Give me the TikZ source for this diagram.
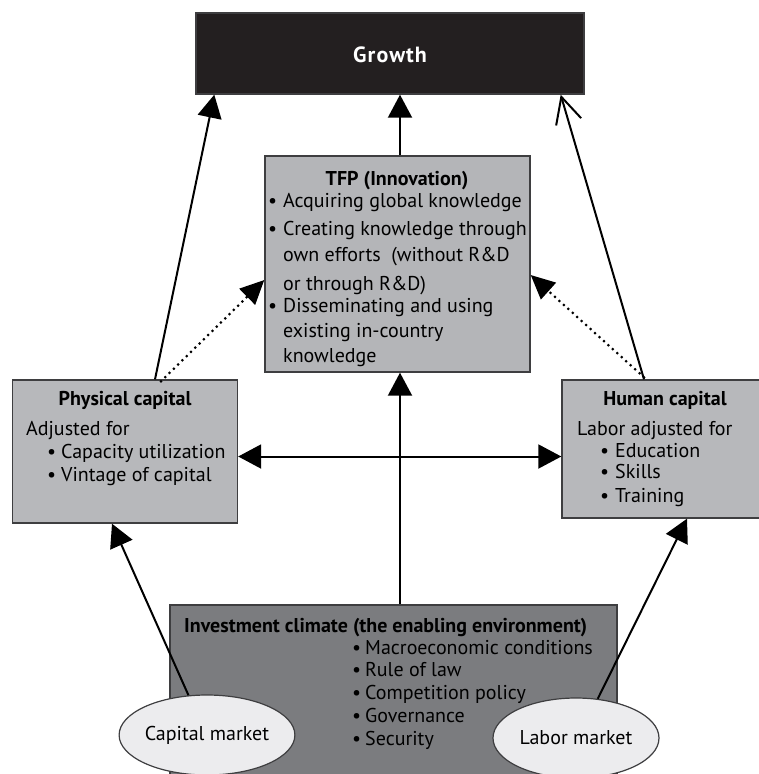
\documentclass[tikz,border=0pt]{standalone}
\usepackage{fontspec}
\setmainfont{PT Sans}
\usetikzlibrary{arrows.meta,shapes.geometric}

\definecolor{growthblack}{RGB}{35,31,32}
\definecolor{tfpgray}{RGB}{180,181,184}
\definecolor{capgray}{RGB}{183,184,187}
\definecolor{invgray}{RGB}{123,124,127}
\definecolor{mktgray}{RGB}{236,236,238}
\definecolor{edgegray}{RGB}{62,62,64}

\newcommand{\bul}[1][15pt]{\makebox[#1][l]{\textbullet}}
\newcommand{\hang}{\hspace*{15pt}}

\tikzset{
  box/.style={draw=edgegray, line width=1.4pt, rectangle, inner sep=0pt},
  mkt/.style={draw=edgegray, line width=1.2pt, ellipse, fill=mktgray, inner sep=0pt,
    minimum width=166pt, minimum height=80pt, font=\fontsize{20}{24}\selectfont},
  lbl/.style={inner sep=0pt, font=\fontsize{20}{24}\selectfont},
  blk/.style={inner sep=0pt, anchor=base west},
  fwd/.style={line width=2pt, -{Triangle[length=23pt,width=24pt]}},
  openfwd/.style={line width=2pt, -{Straight Barb[length=26pt,width=26pt,line width=2pt]}},
  dots/.style={line width=3pt, line cap=round, dash pattern=on 0pt off 6pt,
    -{Triangle[length=24pt,width=22pt,line cap=butt]}}
}

\begin{document}
\begin{tikzpicture}[x=1pt, y=-1pt]
    \useasboundingbox (0,0) rectangle (759,774);

    % boxes
    \node[box, fill=growthblack, minimum width=388pt, minimum height=81pt] (growth) at (390,53.5) {};
    \node[box, fill=tfpgray, minimum width=265pt, minimum height=216pt] (tfp) at (397.5,264) {};
    \node[box, fill=capgray, minimum width=225pt, minimum height=143pt] (phys) at (125,451.5) {};
    \node[box, fill=capgray, minimum width=200pt, minimum height=138pt] (human) at (662,449) {};
    \node[box, fill=invgray, minimum width=447pt, minimum height=172pt] (inv) at (393.5,691) {};
    \node[mkt] (capm) at (207,735) {Capital market};
    \node[mkt] (labm) at (576,738) {Labor market};

    % texts
    \node[inner sep=0pt, anchor=base, text=white, font=\fontsize{22}{26}\selectfont\bfseries\addfontfeatures{LetterSpace=5}]
        (growtht) at (390,62) {Growth};
    \node[lbl, anchor=base] (tfpt) at (397,185) {\textbf{TFP (Innovation)}};
    \node[lbl, blk] (tfpb) at (268,207) {\parbox[t]{300pt}{\raggedright\fontsize{20}{25}\selectfont
        \bul Acquiring global knowledge\\[3pt]
        \bul Creating knowledge through\\[1pt]
        \hang own efforts\ \ (without R\&D\\[4pt]
        \hang or through R\&D)\\[-3pt]
        \bul Disseminating and using\\
        \hang existing in-country\\
        \hang knowledge}};

    \node[lbl, anchor=base] (physt) at (125,405) {\textbf{Physical capital}};
    \node[lbl, blk] (physb) at (26,435) {\parbox[t]{220pt}{\raggedright\fontsize{20}{23}\selectfont
        Adjusted for\\
        \hspace*{21pt}\bul[14pt]Capacity utilization\\
        \hspace*{21pt}\bul[14pt]Vintage of capital}};

    \node[lbl, anchor=base] (humant) at (665,405) {\textbf{Human capital}};
    \node[lbl, blk] (humanb) at (577,435) {\parbox[t]{190pt}{\raggedright\fontsize{20}{22.7}\selectfont
        Labor adjusted for\\
        \hspace*{23pt}\bul Education\\[-1.5pt]
        \hspace*{23pt}\bul Skills\\[1pt]
        \hspace*{23pt}\bul Training}};

    \node[lbl, blk] (invt) at (184,632) {\textbf{Investment climate (the enabling environment)}};
    \node[lbl, blk] (invb) at (352,654) {\parbox[t]{260pt}{\raggedright\fontsize{20}{22.75}\selectfont
        \bul[13pt]Macroeconomic conditions\\
        \bul[13pt]Rule of law\\
        \bul[13pt]Competition policy\\
        \bul[13pt]Governance\\
        \bul[13pt]Security}};

    % arrows to growth
    \draw[fwd] ([xshift=30pt]phys.north) -- ([xshift=19pt]growth.south west);
    \draw[fwd] ([xshift=2.5pt]tfp.north) -- ([xshift=2.5pt]tfp.north |- growth.south);
    \draw[openfwd] ([xshift=-18pt]human.north) -- ([xshift=-24pt]growth.south east);

    % dotted links into TFP
    \draw[dots] ([xshift=36pt,yshift=-2pt]phys.north) -- ([yshift=-16pt]tfp.west);
    \draw[dots] ([xshift=-18pt,yshift=2pt]human.north) -- ([yshift=-11pt]tfp.east);

    % investment climate
    \draw[fwd] ([xshift=2.5pt]inv.north -| tfp.south) -- ([xshift=2.5pt]tfp.south);
    \draw[{Triangle[length=23pt,width=24pt]}-{Triangle[length=23pt,width=24pt]}, line width=2pt]
        ([yshift=-5pt]phys.east) -- ([yshift=-5pt]phys.east -| human.west);

    % markets
    \draw[fwd] (capm.115) -- ([xshift=-13pt]phys.south);
    \draw[fwd] (labm.61) -- ([xshift=25pt]human.south);

\end{tikzpicture}
\end{document}
